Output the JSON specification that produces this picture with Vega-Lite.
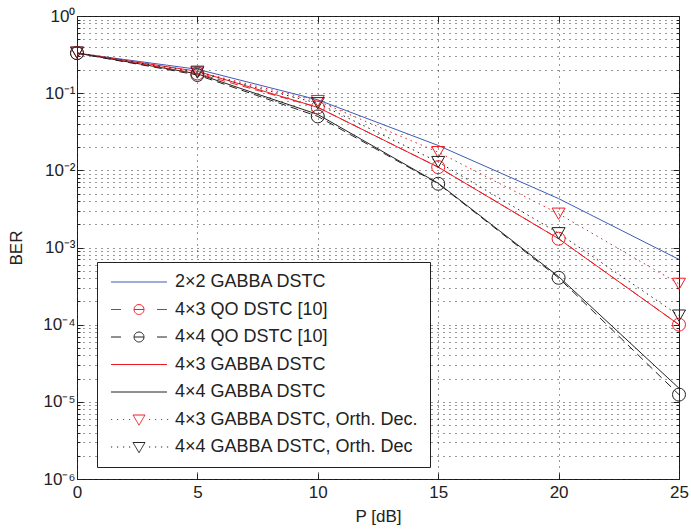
{
  "$schema": "https://vega.github.io/schema/vega-lite/v6.json",
  "width": 602,
  "height": 463,
  "autosize": {"type": "none"},
  "padding": {"left": 77, "top": 16, "right": 12, "bottom": 51},
  "background": "white",
  "config": {
    "view": {"stroke": "#222", "strokeWidth": 1},
    "font": "Liberation Sans",
    "axis": {
      "labelFont": "Liberation Sans",
      "titleFont": "Liberation Sans",
      "labelColor": "#222",
      "titleColor": "#222",
      "tickColor": "#222",
      "domainColor": "#222",
      "titleFontWeight": "normal",
      "labelFontSize": 17,
      "titleFontSize": 17
    }
  },
  "data": {
    "values": [
      {"series": "2×2 GABBA DSTC", "P": 0, "BER": 0.33},
      {"series": "2×2 GABBA DSTC", "P": 5, "BER": 0.204},
      {"series": "2×2 GABBA DSTC", "P": 10, "BER": 0.082},
      {"series": "2×2 GABBA DSTC", "P": 15, "BER": 0.021},
      {"series": "2×2 GABBA DSTC", "P": 20, "BER": 0.0043},
      {"series": "2×2 GABBA DSTC", "P": 25, "BER": 0.0007},
      {"series": "4×3 QO DSTC [10]", "P": 0, "BER": 0.33},
      {"series": "4×3 QO DSTC [10]", "P": 5, "BER": 0.18},
      {"series": "4×3 QO DSTC [10]", "P": 10, "BER": 0.0655},
      {"series": "4×3 QO DSTC [10]", "P": 15, "BER": 0.011},
      {"series": "4×3 QO DSTC [10]", "P": 20, "BER": 0.0013},
      {"series": "4×3 QO DSTC [10]", "P": 25, "BER": 0.0001},
      {"series": "4×4 QO DSTC [10]", "P": 0, "BER": 0.33},
      {"series": "4×4 QO DSTC [10]", "P": 5, "BER": 0.172},
      {"series": "4×4 QO DSTC [10]", "P": 10, "BER": 0.05},
      {"series": "4×4 QO DSTC [10]", "P": 15, "BER": 0.0067},
      {"series": "4×4 QO DSTC [10]", "P": 20, "BER": 0.000405},
      {"series": "4×4 QO DSTC [10]", "P": 25, "BER": 0.0000124},
      {"series": "4×3 GABBA DSTC", "P": 0, "BER": 0.33},
      {"series": "4×3 GABBA DSTC", "P": 5, "BER": 0.192},
      {"series": "4×3 GABBA DSTC", "P": 10, "BER": 0.0655},
      {"series": "4×3 GABBA DSTC", "P": 15, "BER": 0.011},
      {"series": "4×3 GABBA DSTC", "P": 20, "BER": 0.0013},
      {"series": "4×3 GABBA DSTC", "P": 25, "BER": 0.0001},
      {"series": "4×4 GABBA DSTC", "P": 0, "BER": 0.33},
      {"series": "4×4 GABBA DSTC", "P": 5, "BER": 0.178},
      {"series": "4×4 GABBA DSTC", "P": 10, "BER": 0.053},
      {"series": "4×4 GABBA DSTC", "P": 15, "BER": 0.0068},
      {"series": "4×4 GABBA DSTC", "P": 20, "BER": 0.00042},
      {"series": "4×4 GABBA DSTC", "P": 25, "BER": 0.000015},
      {"series": "4×3 GABBA DSTC, Orth. Dec.", "P": 0, "BER": 0.335},
      {"series": "4×3 GABBA DSTC, Orth. Dec.", "P": 5, "BER": 0.19},
      {"series": "4×3 GABBA DSTC, Orth. Dec.", "P": 10, "BER": 0.079},
      {"series": "4×3 GABBA DSTC, Orth. Dec.", "P": 15, "BER": 0.0172},
      {"series": "4×3 GABBA DSTC, Orth. Dec.", "P": 20, "BER": 0.00274},
      {"series": "4×3 GABBA DSTC, Orth. Dec.", "P": 25, "BER": 0.000338},
      {"series": "4×4 GABBA DSTC, Orth. Dec", "P": 0, "BER": 0.335},
      {"series": "4×4 GABBA DSTC, Orth. Dec", "P": 5, "BER": 0.185},
      {"series": "4×4 GABBA DSTC, Orth. Dec", "P": 10, "BER": 0.074},
      {"series": "4×4 GABBA DSTC, Orth. Dec", "P": 15, "BER": 0.0128},
      {"series": "4×4 GABBA DSTC, Orth. Dec", "P": 20, "BER": 0.00153},
      {"series": "4×4 GABBA DSTC, Orth. Dec", "P": 25, "BER": 0.000131}
    ]
  },
  "layer": [
    {
      "transform": [{"filter": {"field": "series", "oneOf": ["2×2 GABBA DSTC", "4×3 GABBA DSTC", "4×4 GABBA DSTC"]}}],
      "mark": {"type": "line", "strokeWidth": 1, "clip": true},
      "encoding": {
        "x": {
          "field": "P", "type": "quantitative",
          "scale": {"domain": [0, 25], "nice": false, "zero": false},
          "axis": {
            "orient": "bottom",
            "values": [0, 5, 10, 15, 20, 25],
            "grid": true, "gridDash": [1, 5], "gridColor": "#000", "gridOpacity": 0.8,
            "tickSize": -6, "domain": false,
            "labelPadding": 11, "labelFlush": false,
            "title": "P [dB]", "titlePadding": 8
          }
        },
        "y": {
          "field": "BER", "type": "quantitative",
          "scale": {"type": "log", "domain": [0.000001, 1], "nice": false},
          "axis": {
            "orient": "left",
            "values": [0.000001, 0.000002, 0.000003, 0.000004, 0.000005, 0.000006, 0.000007, 0.000008, 0.000009,
                       0.00001, 0.00002, 0.00003, 0.00004, 0.00005, 0.00006, 0.00007, 0.00008, 0.00009,
                       0.0001, 0.0002, 0.0003, 0.0004, 0.0005, 0.0006, 0.0007, 0.0008, 0.0009,
                       0.001, 0.002, 0.003, 0.004, 0.005, 0.006, 0.007, 0.008, 0.009,
                       0.01, 0.02, 0.03, 0.04, 0.05, 0.06, 0.07, 0.08, 0.09,
                       0.1, 0.2, 0.3, 0.4, 0.5, 0.6, 0.7, 0.8, 0.9, 1],
            "grid": true, "gridDash": [1, 5], "gridColor": "#000", "gridOpacity": 0.8,
            "tickSize": {"condition": {"test": "abs(log(datum.value)/LN10 - round(log(datum.value)/LN10)) < 0.001", "value": -6}, "value": -3},
            "domain": false,
            "labelOverlap": false, "labelFlush": false, "labelPadding": 8,
            "labelExpr": "abs(log(datum.value)/LN10 - round(log(datum.value)/LN10)) < 0.001 ? '10' + ['⁰','⁻¹','⁻²','⁻³','⁻⁴','⁻⁵','⁻⁶'][-round(log(datum.value)/LN10)] : ''",
            "title": "BER", "titlePadding": 17
          }
        },
        "color": {
          "field": "series", "type": "nominal",
          "scale": {
            "domain": ["2×2 GABBA DSTC", "4×3 QO DSTC [10]", "4×4 QO DSTC [10]", "4×3 GABBA DSTC", "4×4 GABBA DSTC", "4×3 GABBA DSTC, Orth. Dec.", "4×4 GABBA DSTC, Orth. Dec"],
            "range": ["#3d5bb8", "#ee1d23", "#222222", "#ee1d23", "#222222", "#ee1d23", "#222222"]
          },
          "legend": {
            "orient": "none", "legendX": 20, "legendY": 246,
            "title": null,
            "strokeColor": "#222", "fillColor": "white", "padding": 11,
            "labelFont": "Liberation Sans", "labelFontSize": 18, "labelColor": "#222", "labelLimit": 400,
            "labelOffset": 49, "symbolSize": 144, "rowPadding": 9.5,
            "symbolDash": [1, 0],
            "encode": {
              "symbols": {
                "update": {
                  "shape": {"signal": "indexof(datum.value, 'QO') >= 0 ? 'M-1,0H0.67M2.84,0H4.5M6.67,0H8.33M4.5,0C4.5,0.458,4.128,0.83,3.67,0.83C3.212,0.83,2.84,0.458,2.84,0C2.84,-0.458,3.212,-0.83,3.67,-0.83C4.128,-0.83,4.5,-0.458,4.5,0Z' : (indexof(datum.value, 'Orth') >= 0 ? 'M-1,0h0.2M0,0h0.2M1,0h0.2M2,0h0.2M5.33,0h0.2M6.33,0h0.2M7.33,0h0.2M8.33,0h0.2M2.67,-0.75L4.67,-0.75L3.67,0.95Z' : 'M-1,0H8.33')"},
                  "fill": {"value": "transparent"},
                  "strokeDash": {"value": [1, 0]},
                  "strokeWidth": {"value": 1},
                  "opacity": {"value": 1}
                }
              }
            }
          }
        }
      }
    },
    {
      "transform": [{"filter": {"field": "series", "oneOf": ["4×3 QO DSTC [10]", "4×4 QO DSTC [10]"]}}],
      "mark": {"type": "line", "strokeWidth": 1, "strokeDash": [8, 5], "clip": true},
      "encoding": {
        "x": {"field": "P", "type": "quantitative", "axis": null},
        "y": {"field": "BER", "type": "quantitative", "axis": null},
        "color": {"field": "series", "type": "nominal"}
      }
    },
    {
      "transform": [{"filter": {"field": "series", "oneOf": ["4×3 GABBA DSTC, Orth. Dec.", "4×4 GABBA DSTC, Orth. Dec"]}}],
      "mark": {"type": "line", "strokeWidth": 1, "strokeDash": [1.5, 4], "clip": true},
      "encoding": {
        "x": {"field": "P", "type": "quantitative", "axis": null},
        "y": {"field": "BER", "type": "quantitative", "axis": null},
        "color": {"field": "series", "type": "nominal"}
      }
    },
    {
      "transform": [{"filter": {"field": "series", "oneOf": ["4×3 QO DSTC [10]", "4×4 QO DSTC [10]", "4×3 GABBA DSTC, Orth. Dec.", "4×4 GABBA DSTC, Orth. Dec"]}}],
      "mark": {"type": "point", "filled": false, "size": 169, "strokeWidth": 1, "opacity": 1},
      "encoding": {
        "x": {
          "field": "P", "type": "quantitative",
          "axis": {"orient": "top", "values": [0, 5, 10, 15, 20, 25], "labels": false, "grid": false, "title": null, "tickSize": -6, "domain": false}
        },
        "y": {
          "field": "BER", "type": "quantitative",
          "axis": {
            "orient": "right",
            "values": [0.000001, 0.000002, 0.000003, 0.000004, 0.000005, 0.000006, 0.000007, 0.000008, 0.000009,
                       0.00001, 0.00002, 0.00003, 0.00004, 0.00005, 0.00006, 0.00007, 0.00008, 0.00009,
                       0.0001, 0.0002, 0.0003, 0.0004, 0.0005, 0.0006, 0.0007, 0.0008, 0.0009,
                       0.001, 0.002, 0.003, 0.004, 0.005, 0.006, 0.007, 0.008, 0.009,
                       0.01, 0.02, 0.03, 0.04, 0.05, 0.06, 0.07, 0.08, 0.09,
                       0.1, 0.2, 0.3, 0.4, 0.5, 0.6, 0.7, 0.8, 0.9, 1],
            "labels": false, "grid": false, "title": null, "domain": false,
            "tickSize": {"condition": {"test": "abs(log(datum.value)/LN10 - round(log(datum.value)/LN10)) < 0.001", "value": -6}, "value": -3}
          }
        },
        "color": {"field": "series", "type": "nominal"},
        "shape": {
          "field": "series", "type": "nominal",
          "scale": {
            "domain": ["4×3 QO DSTC [10]", "4×4 QO DSTC [10]", "4×3 GABBA DSTC, Orth. Dec.", "4×4 GABBA DSTC, Orth. Dec"],
            "range": ["circle", "circle", "triangle-down", "triangle-down"]
          },
          "legend": null
        }
      }
    }
  ]
}
